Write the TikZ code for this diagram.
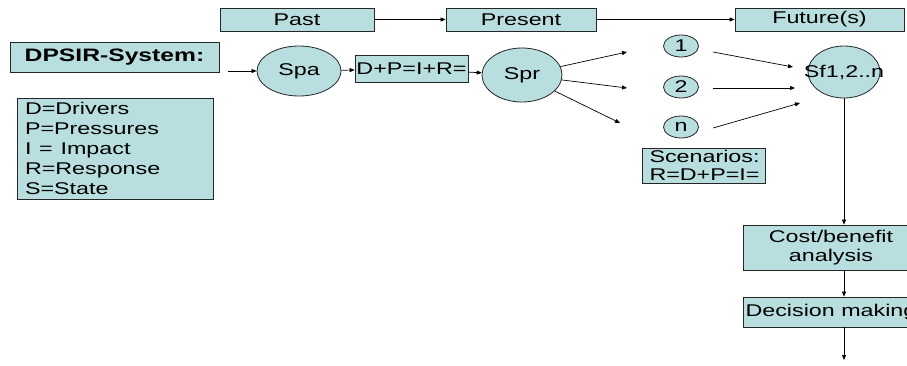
\documentclass[tikz,border=0pt]{standalone}
\usepackage{fontspec}
\setmainfont{Liberation Sans}
\usepackage{graphicx}
\usetikzlibrary{arrows.meta,shapes.geometric}
\definecolor{boxfill}{RGB}{184,222,224}
\newcommand{\sx}[1]{\scalebox{1.37}[1]{#1}}
\newcommand{\zx}[1]{\makebox[0pt][c]{\sx{#1}}}
\begin{document}
\begin{tikzpicture}[x=1pt,y=1pt,
  every node/.style={font=\fontsize{17}{20}\selectfont, inner sep=0pt},
  box/.style={draw=black!85, fill=boxfill, line width=0.8pt, rectangle},
  oval/.style={draw=black!85, fill=boxfill, line width=0.8pt, ellipse},
  arr/.style={-{Triangle[length=5pt,width=4pt]}, line width=0.7pt},
]
\useasboundingbox (0,0) rectangle (907,-365);
\clip (0,0) rectangle (907,-365);

% timeline
\node[box, minimum width=154, minimum height=23] (past) at (297,-19.5) {\sx{Past}};
\node[box, minimum width=150, minimum height=23] (present) at (521,-19.5) {\sx{Present}};
\node[box, minimum width=169, minimum height=23] (future) at (819.5,-19.5) {\sx{Future(s)}};
\draw[arr] (past) -- (present);
\draw[arr] (present) -- (future);

% left
\node[box, minimum width=209, minimum height=30, font=\fontsize{18}{20}\selectfont\bfseries] (dpsir) at (114.5,-57) {\sx{DPSIR-System:}};
\node[box, text width=180, inner xsep=8, minimum height=101, align=left] (legend) at (115,-148.5)
  {\sx{D=Drivers}\\\sx{P=Pressures}\\\sx{I = Impact}\\\sx{R=Response}\\\sx{S=State}};

% system chain
\coordinate (in) at (228,-71);
\node[oval, minimum width=84, minimum height=50] (spa) at (299,-71) {\zx{Spa}};
\node[box, minimum width=113, minimum height=27] (dp) at (411.5,-69) {\zx{D+P=I+R=}};
\node[oval, minimum width=80, minimum height=54] (spr) at (522,-75) {\zx{Spr}};
\draw[arr] (in) -- (spa);
\draw[arr] (spa) -- (dp);
\draw[arr] (dp) -- (spr);

% scenarios
\coordinate (a1) at (627,-52);
\coordinate (a2) at (627,-88);
\coordinate (a3) at (620,-123);
\draw[arr] (spr) -- (a1);
\draw[arr] (spr) -- (a2);
\draw[arr] (spr) -- (a3);
\node[oval, minimum width=35, minimum height=22] (c1) at (681,-46) {\zx{1}};
\node[oval, minimum width=35, minimum height=22] (c2) at (681,-87) {\zx{2}};
\node[oval, minimum width=35, minimum height=22] (cn) at (681,-127) {\zx{n}};
\coordinate (b1s) at (713,-52);
\coordinate (b1e) at (793,-67);
\coordinate (b2s) at (713,-88);
\coordinate (b2e) at (795,-88);
\coordinate (b3s) at (713,-128);
\coordinate (b3e) at (800,-103);
\draw[arr] (b1s) -- (b1e);
\draw[arr] (b2s) -- (b2e);
\draw[arr] (b3s) -- (b3e);
\node[oval, minimum width=72, minimum height=52] (sf) at (844,-72) {\zx{Sf1,2..n}};
\node[box, text width=108, inner xsep=7.5, minimum height=35, align=left, font=\fontsize{17}{17.5}\selectfont] (scen) at (703.5,-165.5)
  {\sx{Scenarios:}\\\sx{R=D+P=I=}};

% decision chain
\node[box, minimum width=176, minimum height=45, align=center, font=\fontsize{17}{18.5}\selectfont] (cost) at (831,-247.5)
  {\sx{Cost/benefit}\\\sx{analysis}};
\node[box, minimum width=176, minimum height=30] (dec) at (831,-312) {\sx{Decision making}};
\coordinate (endpt) at (844,-360);
\draw[arr] (sf) -- (sf |- cost.north);
\draw[arr] (cost.south -| sf) -- (dec.north -| sf);
\draw[arr] (dec.south -| sf) -- (endpt);
\end{tikzpicture}
\end{document}
